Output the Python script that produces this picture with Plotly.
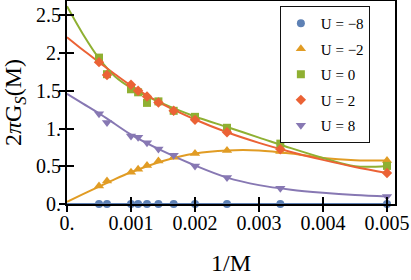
import plotly.graph_objects as go

# data points: x = 1/M
x_pts = [1/2000, 1/1600, 1/1000, 1/900, 1/800, 1/700, 1/600, 1/500, 1/400, 1/300, 1/200]
y_m8 = [0, 0, 0, 0, 0, 0, 0, 0, 0, 0, 0]
y_m2 = [0.24, 0.305, 0.42, 0.46, 0.51, 0.57, 0.62, 0.67, 0.71, 0.695, 0.575]
y_0 = [1.94, 1.72, 1.52, 1.48, 1.34, 1.36, 1.235, 1.155, 1.01, 0.80, 0.505]
y_2 = [1.88, 1.71, 1.58, 1.50, 1.425, 1.345, 1.235, 1.115, 0.95, 0.726, 0.41]
y_8 = [1.195, 1.08, 0.90, 0.886, 0.81, 0.73, 0.645, 0.505, 0.35, 0.21, 0.10]

# fitted curves
x_fit = [0, 0.00025, 0.0005, 0.00075, 0.001, 0.0015, 0.002, 0.0025, 0.003, 0.0035, 0.004, 0.0045, 0.005]
f_m8 = [0, 0, 0, 0, 0, 0, 0, 0, 0, 0, 0, 0, 0]
f_m2 = [0.03, 0.13, 0.23, 0.33, 0.42, 0.57, 0.67, 0.71, 0.71, 0.67, 0.61, 0.58, 0.575]
f_0 = [2.62, 2.25, 1.93, 1.69, 1.54, 1.33, 1.16, 1.02, 0.88, 0.74, 0.61, 0.50, 0.505]
f_2 = [2.21, 2.04, 1.88, 1.72, 1.57, 1.32, 1.12, 0.95, 0.81, 0.69, 0.585, 0.49, 0.41]
f_8 = [1.46, 1.33, 1.20, 1.06, 0.92, 0.70, 0.51, 0.35, 0.25, 0.19, 0.15, 0.12, 0.10]

names = ["U = \u22128", "U = \u22122", "U = 0", "U = 2", "U = 8"]
colors = ["#5E81B5", "#E19C24", "#8FB032", "#EB6235", "#8778B3"]
symbols = ["circle", "triangle-up", "square", "diamond", "triangle-down"]
sizes = [8, 9, 8, 8, 9]

pts = [y_m8, y_m2, y_0, y_2, y_8]
fits = [f_m8, f_m2, f_0, f_2, f_8]

fig = go.Figure()
for f, c in zip(fits, colors):
    fig.add_trace(go.Scatter(x=x_fit, y=f, mode="lines", line=dict(color=c, width=2, shape="spline", smoothing=1.0),
                             showlegend=False, hoverinfo="skip", cliponaxis=True))
for i, (p, c, s, n, sz) in enumerate(zip(pts, colors, symbols, names, sizes)):
    fig.add_trace(go.Scatter(x=x_pts, y=p, mode="markers", name=n, legendgroup="g%d" % i,
                             marker=dict(color=c, symbol=s, size=sz, line=dict(width=0)),
                             cliponaxis=False))

font_family = "Liberation Serif"
xt = [0, 0.001, 0.002, 0.003, 0.004, 0.005]
xl = ["0.", "0.001", "0.002", "0.003", "0.004", "0.005"]
yt = [0, 0.5, 1, 1.5, 2, 2.5]
yl = ["0.", "0.5", "1.", "1.5", "2.", "2.5"]

fig.update_layout(
    width=411, height=280,
    margin=dict(l=67, r=16, t=1, b=76, autoexpand=False),
    plot_bgcolor="white", paper_bgcolor="white",
    font=dict(family=font_family, size=20, color="black"),
    showlegend=True,
    legend=dict(x=0.649, y=0.975, xanchor="left", yanchor="top",
                bordercolor="#111111", borderwidth=1, bgcolor="white",
                font=dict(size=15, family=font_family), tracegroupgap=3,
                itemwidth=30, entrywidth=45, entrywidthmode="pixels"),
    xaxis=dict(range=[0, 0.005125], tickvals=xt, ticktext=xl, ticks="inside", ticklen=7,
               tickwidth=1.5, tickcolor="black", showgrid=False, zeroline=False,
               showline=True, linecolor="black", linewidth=2, mirror=True, automargin=False,
               tickfont=dict(size=20), ticklabeloverflow="allow",
               title=dict(text="1/M", standoff=21)),
    yaxis=dict(range=[0, 2.69], tickvals=yt, ticktext=yl, ticks="inside", ticklen=7,
               tickwidth=1.5, tickcolor="black", showgrid=False, zeroline=False,
               showline=True, linecolor="black", linewidth=2, mirror=True, automargin=False,
               tickfont=dict(size=20),
               title=dict(text="2<i>\u03c0</i>G<sub><i>S</i></sub>(M)", standoff=8)),
    xaxis2=dict(range=[0, 0.005125], overlaying="x", tickvals=xt, ticks="outside", ticklen=7,
                tickwidth=1.5, tickcolor="black", showticklabels=False, showgrid=False,
                zeroline=False, side="bottom", anchor="y", automargin=False),
    yaxis2=dict(range=[0, 2.69], overlaying="y", tickvals=yt, ticks="outside", ticklen=7,
                tickwidth=1.5, tickcolor="black", showticklabels=False, showgrid=False,
                zeroline=False, side="left", anchor="x", automargin=False),
)
# invisible trace to activate overlay axes
fig.add_trace(go.Scatter(x=[0], y=[0], xaxis="x2", yaxis="y2", mode="markers",
                         marker=dict(opacity=0), showlegend=False, hoverinfo="skip"))

fig.write_html("out.html", config={"displayModeBar": False},
               post_script="document.body.style.margin='0';document.body.style.padding='0';")
